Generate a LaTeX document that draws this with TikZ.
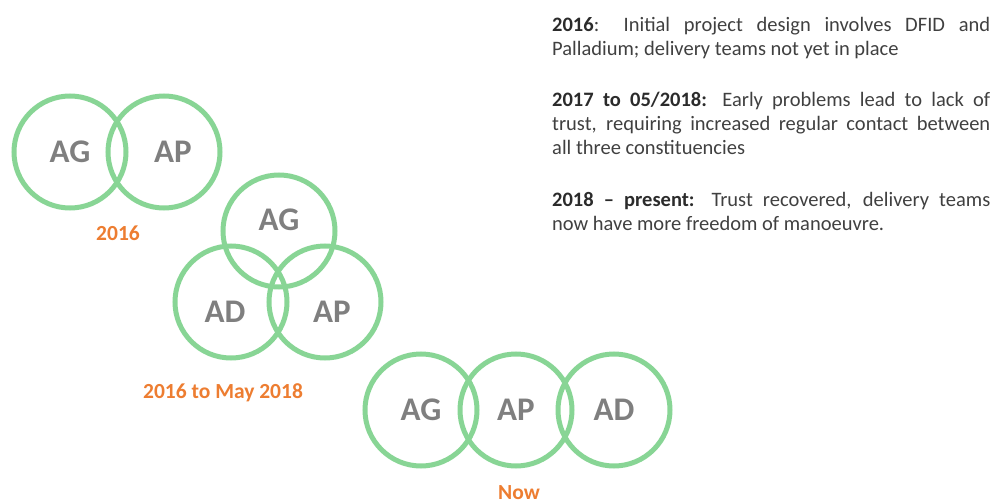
\documentclass[tikz,border=0pt]{standalone}
\usepackage{fontspec}
\setmainfont{Carlito}
\definecolor{ringgreen}{HTML}{88D595}
\definecolor{tiergray}{HTML}{7F7F7F}
\definecolor{yearorange}{HTML}{ED7D31}
\definecolor{notegray}{HTML}{404040}
\definecolor{notedark}{HTML}{2B2B2B}
\newcommand{\lead}[1]{\textbf{\color{notedark}#1}}

\begin{document}
\begin{tikzpicture}[x=1pt,y=-1pt,
        ring/.style={circle,draw=ringgreen,line width=5pt,minimum size=112pt,
            inner sep=0pt},
        tag/.style={text=tiergray,font=\fontsize{33}{33}\selectfont\bfseries},
        year/.style={anchor=base,inner sep=0pt,text=yearorange,
            font=\fontsize{21.5}{21.5}\selectfont\bfseries},
        note/.style={anchor=north west,inner sep=0pt,text width=438pt,
            align=justify,text=notegray,font=\fontsize{20.5}{24}\selectfont}]
\useasboundingbox (0,0) rectangle (997,503);

% 2016: two rings
\node[ring,tag] (pAG) at (70,152) {AG};
\node[ring] (pAP) at (164,152) {};
\node[tag] (pAPt) at ([xshift=9pt]pAP.center) {AP};
\node[year] (y1) at (118,240) {2016};

% 2016 to May 2018: three rings in a triangle
\node[ring] (tAG) at (279,231) {};
\node[ring] (tAD) at (231,302) {};
\node[ring] (tAP) at (325,302) {};
\node[tag] (tAGt) at ([yshift=11pt]tAG.center) {AG};
\node[tag] (tADt) at ([xshift=-6pt,yshift=-10pt]tAD.center) {AD};
\node[tag] (tAPt) at ([xshift=7pt,yshift=-10pt]tAP.center) {AP};
\node[year] (y2) at (223,398) {2016 to May 2018};

% now: three rings in a row
\node[ring,tag] (nAG) at (421,410) {AG};
\node[ring,tag] (nAP) at (516,410) {AP};
\node[ring,tag] (nAD) at (614,410) {AD};
\node[year] (y3) at (519,499) {Now};

% notes on the right
\node[note] (n1) at (552,17) {\lead{2016}: Initial project design involves DFID and\linebreak
    Palladium; delivery teams not yet in place};
\node[note] (n2) at (552,92) {\lead{2017 to 05/2018:} Early problems lead to lack of\linebreak
    trust, requiring increased regular contact between\linebreak
    all three constituencies};
\node[note] (n3) at (552,192) {\lead{2018 -- present:} Trust recovered, delivery teams\linebreak
    now have more freedom of manoeuvre.};
\end{tikzpicture}
\end{document}
